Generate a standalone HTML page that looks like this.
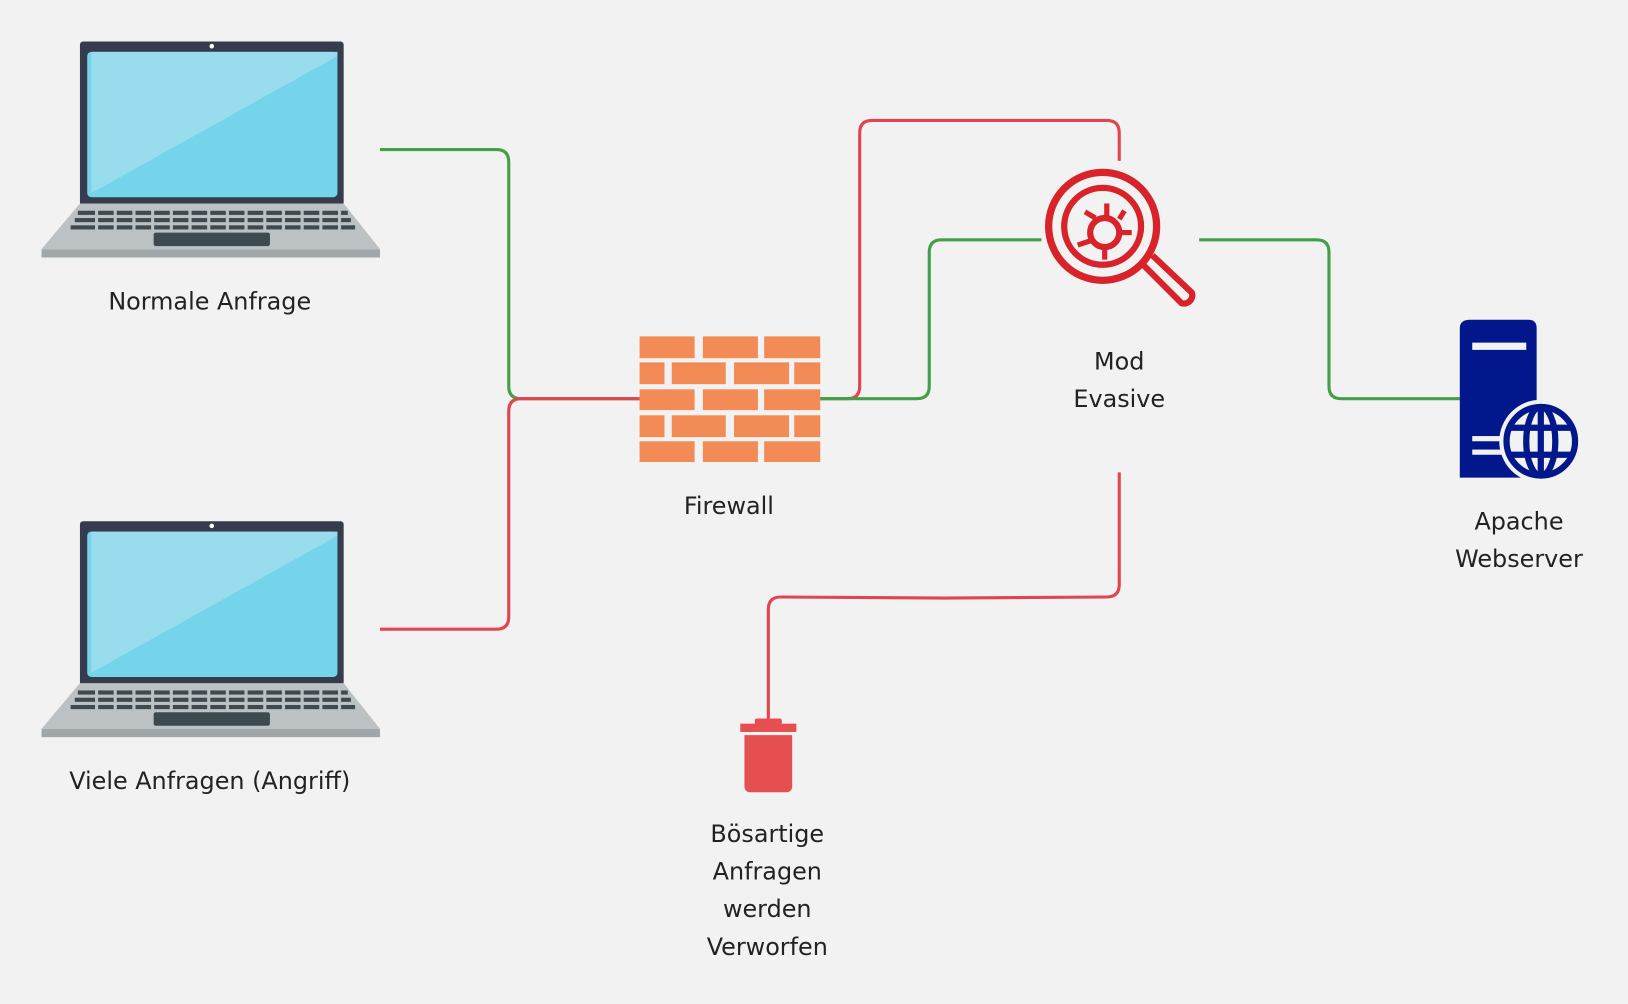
<!DOCTYPE html>
<html><head><meta charset="utf-8"><style>
html,body{margin:0;padding:0;background:#f2f2f2;}
svg{display:block}
text{font-family:"DejaVu Sans",sans-serif;font-size:23px;fill:#222;text-anchor:middle}
</style></head><body>
<svg width="1628" height="1004" viewBox="0 0 1568 967" preserveAspectRatio="none" xmlns="http://www.w3.org/2000/svg">
<rect width="1568" height="967" fill="#f2f2f2"/>
<defs>
<g id="laptop">
<rect x="77" y="40" width="254" height="158" rx="3" fill="#343c4e"/>
<circle cx="204" cy="44.5" r="2.2" fill="#fff"/>
<rect x="84" y="50" width="241" height="140" rx="4" fill="#73d4ea"/>
<path d="M88 50 H325 L325 54 L88 186 Z" fill="#98dcee"/>
<path d="M77 196 H331 L366 240 H40 Z" fill="#bcc1c4"/>
<rect x="40" y="240" width="326" height="8" fill="#a0a7aa"/>
<g fill="#3f4a50">
<rect x="75" y="203" width="260" height="4"/>
<rect x="72" y="210" width="266" height="4"/>
<rect x="68" y="217" width="274" height="4"/>
</g>
<g stroke="#bcc1c4" stroke-width="3">
<path d="M93 200V222M111 200V222M129 200V222M147 200V222M165 200V222M183 200V222M201 200V222M219 200V222M237 200V222M255 200V222M273 200V222M291 200V222M309 200V222M327 200V222"/>
</g>
<rect x="148" y="224" width="112" height="13" rx="2" fill="#3f4a50"/>
</g>
</defs>
<use href="#laptop"/>
<use href="#laptop" y="462"/>
<g fill="none" stroke-width="3">
<path d="M366 144H478Q490 144 490 156V372Q490 384 502 384H616" stroke="#43a047"/>
<path d="M366 606H478Q490 606 490 594V396Q490 384 502 384H616" stroke="#e04550"/>
<path d="M790 384H816Q828 384 828 372V128Q828 116 840 116H1066Q1078 116 1078 128V155" stroke="#e04550"/>
<path d="M790 384H883Q895 384 895 372V243Q895 231 907 231H1003" stroke="#43a047"/>
<path d="M1155 231H1268Q1280 231 1280 243V372Q1280 384 1292 384H1406" stroke="#43a047"/>
<path d="M1078 455V563Q1078 575 1066 575L910 576L752 575Q740 575 740 587V695" stroke="#e04550"/>
</g>
<g fill="#f28b55">
<rect x="616" y="324" width="53" height="21"/><rect x="677" y="324" width="53" height="21"/><rect x="736" y="324" width="54" height="21"/>
<rect x="616" y="349" width="24" height="21"/><rect x="647" y="349" width="52" height="21"/><rect x="707" y="349" width="53" height="21"/><rect x="765" y="349" width="25" height="21"/>
<rect x="616" y="375" width="53" height="20"/><rect x="677" y="375" width="53" height="20"/><rect x="736" y="375" width="54" height="20"/>
<rect x="616" y="400" width="24" height="21"/><rect x="647" y="400" width="52" height="21"/><rect x="707" y="400" width="53" height="21"/><rect x="765" y="400" width="25" height="21"/>
<rect x="616" y="425" width="53" height="20"/><rect x="677" y="425" width="53" height="20"/><rect x="736" y="425" width="54" height="20"/>
</g>
<g fill="none" stroke="#d8232a">
<circle cx="1062" cy="218" r="52" stroke-width="7"/>
<circle cx="1062" cy="218" r="37" stroke-width="6"/>
<circle cx="1064" cy="224" r="14" stroke-width="6"/>
<path d="M1100 254L1138 292A8 8 0 0 0 1148 282L1110 246" stroke-width="6" stroke-linejoin="round"/>
<path d="M1079 224H1090M1064 239V250M1050 232L1038 236M1078 211L1083 203M1055 210L1045 204M1066 208V196" stroke-width="5"/>
</g>
<path d="M1416 308H1472Q1480 308 1480 316V460H1406V316Q1406 308 1416 308Z" fill="#02178c"/>
<rect x="1418" y="330" width="52" height="7" fill="#f2f2f2"/>
<rect x="1418" y="420" width="30" height="5" fill="#f2f2f2"/>
<rect x="1418" y="433" width="30" height="5" fill="#f2f2f2"/>
<circle cx="1484" cy="425" r="40" fill="#f2f2f2"/>
<g fill="none" stroke="#02178c" stroke-width="6">
<circle cx="1484" cy="425" r="33"/>
<ellipse cx="1484" cy="425" rx="14" ry="33"/>
<path d="M1484 392V458M1453 412H1515M1453 438H1515"/>
</g>
<rect x="727" y="692" width="26" height="6" rx="2" fill="#e54f4f"/>
<rect x="713" y="697" width="54" height="8" fill="#e54f4f"/>
<path d="M717 708H763V757Q763 763 757 763H723Q717 763 717 757Z" fill="#e54f4f"/>
<text x="202" y="298">Normale Anfrage</text>
<text x="202" y="760">Viele Anfragen (Angriff)</text>
<text x="702" y="495">Firewall</text>
<text x="1078" y="356">Mod</text>
<text x="1078" y="392">Evasive</text>
<text x="1463" y="510">Apache</text>
<text x="1463" y="546">Webserver</text>
<text x="739" y="811">Bösartige</text>
<text x="739" y="847">Anfragen</text>
<text x="739" y="883">werden</text>
<text x="739" y="920">Verworfen</text>
</svg>
</body></html>
